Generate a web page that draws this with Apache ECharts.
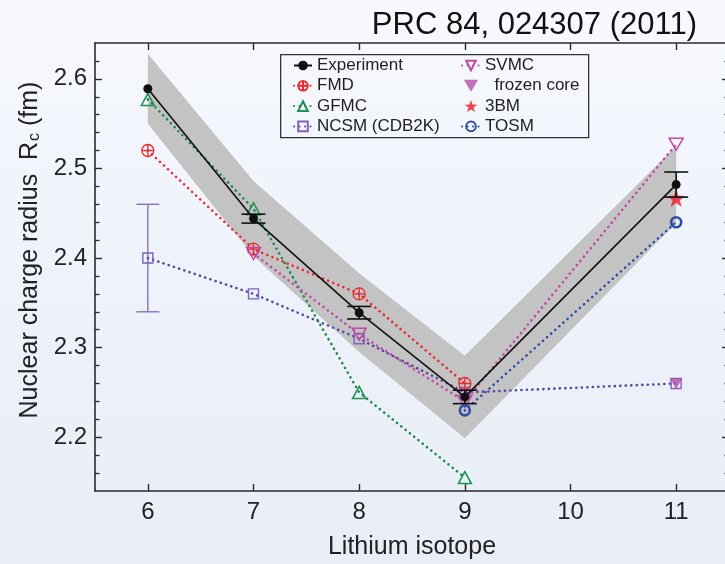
<!DOCTYPE html>
<html>
<head>
<meta charset="utf-8">
<script src="https://cdn.jsdelivr.net/npm/echarts@6/dist/echarts.min.js"></script>
<style>
html,body{margin:0;padding:0;}
body{background:linear-gradient(180deg,#f7f9fd 0%,#eef2fa 50%,#e8edf7 100%);}
#chart{width:725px;height:564px;}
</style>
</head>
<body>
<div id="chart"></div>
<script>
// ---------- data ----------
const isotopes      = [6, 7, 8, 9, 11];
const expValues     = [2.589, 2.444, 2.339, 2.245, 2.482];
const expBandErr    = [0.039, 0.042, 0.044, 0.046, 0.043];
const expStatErr    = [0.0, 0.005, 0.007, 0.0075, 0.014];

const fmdX          = [6, 7, 8, 9];
const fmdValues     = [2.52, 2.41, 2.36, 2.26];

const gfmcX         = [6, 7, 8, 9];
const gfmcValues    = [2.577, 2.455, 2.25, 2.155];

const ncsmX         = [6, 7, 8, 9, 11];
const ncsmValues    = [2.40, 2.36, 2.31, 2.25, 2.26];
const ncsmErrX      = [6];
const ncsmErr       = [0.06];

const svmcX         = [7, 8, 9, 11];
const svmcValues    = [2.405, 2.315, 2.24, 2.527];

const frozenX       = [11];
const frozenValues  = [2.26];

const bm3X          = [11];
const bm3Values     = [2.467];

const tosmX         = [9, 11];
const tosmValues    = [2.23, 2.44];

const xTicks        = [6, 7, 8, 9, 10, 11];
const yTicks        = [2.2, 2.3, 2.4, 2.5, 2.6];
const yMinorTicks   = [2.16, 2.18, 2.22, 2.24, 2.26, 2.28, 2.32, 2.34, 2.36, 2.38,
                       2.42, 2.44, 2.46, 2.48, 2.52, 2.54, 2.56, 2.58, 2.62];

const titleText = 'PRC 84, 024307 (2011)';
const xName = 'Lithium isotope';

// ---------- helpers ----------
const pairs = (xs, ys) => xs.map((x, i) => [x, ys[i]]);
const FONT = "'Liberation Sans', Arial, Helvetica, sans-serif";
const AX = '#2b2b2b';
const STAR = 'path://M0,-10L2.35,-3.24L9.51,-3.09L3.8,1.24L5.88,8.09L0,4L-5.88,8.09L-3.8,1.24L-9.51,-3.09L-2.35,-3.24Z';
const CROSSCIRCLE = 'path://M0,-10A10,10 0 1 1 0,10A10,10 0 1 1 0,-10ZM-10,0L10,0M0,-10L0,10';
const DOWNTRI = 'path://M-10,-8.5L10,-8.5L0,8.5Z';
const dotted = (c) => ({color: c, width: 2.6, type: [0.1, 5.4], cap: 'round'});

function errorBarRenderer(color, lw, half) {
  return function (params, api) {
    const x = api.value(0), lo = api.value(1), hi = api.value(2);
    if (hi - lo <= 0) return null;
    const a = api.coord([x, hi]), b = api.coord([x, lo]);
    const st = {stroke: color, lineWidth: lw, fill: null};
    return {type: 'group', children: [
      {type: 'line', shape: {x1: a[0], y1: a[1], x2: b[0], y2: b[1]}, style: st},
      {type: 'line', shape: {x1: a[0] - half, y1: a[1], x2: a[0] + half, y2: a[1]}, style: st},
      {type: 'line', shape: {x1: b[0] - half, y1: b[1], x2: b[0] + half, y2: b[1]}, style: st}
    ]};
  };
}

function bandRenderer(params, api) {
  if (params.dataIndex !== 0) return null;
  const up = isotopes.map((x, i) => api.coord([x, expValues[i] + expBandErr[i]]));
  const lo = isotopes.map((x, i) => api.coord([x, expValues[i] - expBandErr[i]])).reverse();
  return {type: 'polygon', shape: {points: up.concat(lo)}, style: {fill: '#c3c3c3'}};
}

const gridRect = {left: 95, top: 43, width: 634, height: 448};

const chart = echarts.init(document.getElementById('chart'), null, {renderer: 'canvas'});
chart.setOption({
  animation: false,
  backgroundColor: 'transparent',
  textStyle: {fontFamily: FONT},
  title: {
    text: titleText, right: 23, top: 5,
    textStyle: {fontFamily: FONT, fontSize: 31, fontWeight: 'normal', color: '#111'}
  },
  grid: [
    Object.assign({outerBoundsMode: 'none'}, gridRect),
    Object.assign({outerBoundsMode: 'none'}, gridRect)
  ],
  xAxis: [
    {
      gridIndex: 0, type: 'value', min: 5.5, max: 11.5, position: 'bottom',
      axisLine: {show: true, onZero: false, lineStyle: {color: AX, width: 1.6}},
      axisTick: {show: true, inside: true, length: 7, customValues: xTicks, lineStyle: {color: AX, width: 1.4}},
      axisLabel: {customValues: xTicks, fontSize: 24, color: '#222', margin: 9, fontFamily: FONT},
      splitLine: {show: false},
      name: xName, nameLocation: 'middle', nameGap: 44,
      nameTextStyle: {fontSize: 25, color: '#222', fontFamily: FONT}
    },
    {
      gridIndex: 0, type: 'value', min: 5.5, max: 11.5, position: 'top',
      axisLine: {show: true, onZero: false, lineStyle: {color: AX, width: 1.6}},
      axisTick: {show: true, inside: true, length: 7, customValues: xTicks, lineStyle: {color: AX, width: 1.4}},
      axisLabel: {show: false},
      splitLine: {show: false}
    },
    {
      gridIndex: 1, type: 'value', min: 5.5, max: 11.5, show: false
    }
  ],
  yAxis: [
    {
      gridIndex: 0, type: 'value', min: 2.14, max: 2.64, position: 'left',
      axisLine: {show: true, onZero: false, lineStyle: {color: AX, width: 1.6}},
      axisTick: {show: true, inside: true, length: 7, customValues: yTicks, lineStyle: {color: AX, width: 1.4}},
      axisLabel: {customValues: yTicks, fontSize: 24, color: '#222', margin: 8, fontFamily: FONT,
                  formatter: v => v.toFixed(1)},
      splitLine: {show: false},
      name: 'Nuclear charge radius  R{sub|c} (fm)', nameLocation: 'middle', nameGap: 52,
      nameTextStyle: {
        fontSize: 25, color: '#222', fontFamily: FONT, padding: [0, 0, 0, 34],
        rich: {sub: {fontSize: 16, color: '#222', fontFamily: FONT, padding: [10, 0, 0, 1]}}
      }
    },
    {
      gridIndex: 0, type: 'value', min: 2.14, max: 2.64, position: 'right',
      axisLine: {show: true, onZero: false, lineStyle: {color: AX, width: 1.6}},
      axisTick: {show: true, inside: true, length: 7, customValues: yTicks, lineStyle: {color: AX, width: 1.4}},
      axisLabel: {show: false},
      splitLine: {show: false}
    },
    {
      gridIndex: 1, type: 'value', min: 2.14, max: 2.64, position: 'left',
      axisLine: {show: false},
      axisTick: {show: true, inside: true, length: 4.5, customValues: yMinorTicks, lineStyle: {color: AX, width: 1.3}},
      axisLabel: {show: false},
      splitLine: {show: false}
    },
    {
      gridIndex: 1, type: 'value', min: 2.14, max: 2.64, position: 'right',
      axisLine: {show: false},
      axisTick: {show: true, inside: true, length: 4.5, customValues: yMinorTicks, lineStyle: {color: AX, width: 1.3}},
      axisLabel: {show: false},
      splitLine: {show: false}
    }
  ],
  legend: [
    {
      left: 293, top: 57, orient: 'vertical', padding: 0, itemGap: 3.3,
      itemWidth: 18, itemHeight: 12, selectedMode: false,
      textStyle: {fontSize: 17, color: '#222', fontFamily: FONT, lineHeight: 17},
      data: ['Experiment', 'FMD', 'GFMC', 'NCSM (CDB2K)']
    },
    {
      left: 461, top: 57, orient: 'vertical', padding: 0, itemGap: 3.3,
      itemWidth: 18, itemHeight: 12, selectedMode: false,
      textStyle: {fontSize: 17, color: '#222', fontFamily: FONT, lineHeight: 17},
      formatter: n => (n === 'frozen core' ? '  ' + n : n),
      data: ['SVMC', 'frozen core', '3BM', 'TOSM']
    }
  ],
  graphic: [{
    type: 'rect', left: 280, top: 54, z: 100,
    shape: {width: 308, height: 83},
    style: {fill: 'transparent', stroke: '#333', lineWidth: 1.3}
  }],
  series: [
    {
      name: 'band', type: 'custom', xAxisIndex: 0, yAxisIndex: 0, z: 1, silent: true,
      renderItem: bandRenderer,
      data: isotopes.map((x, i) => [x, expValues[i] - expBandErr[i], expValues[i] + expBandErr[i]])
    },
    {
      name: 'NCSM err', type: 'custom', xAxisIndex: 0, yAxisIndex: 0, z: 3, silent: true,
      renderItem: errorBarRenderer('#8a70c4', 1.4, 11.5),
      data: ncsmErrX.map((x, i) => [x, ncsmValues[ncsmX.indexOf(x)] - ncsmErr[i], ncsmValues[ncsmX.indexOf(x)] + ncsmErr[i]])
    },
    {
      name: 'NCSM (CDB2K)', type: 'line', z: 4, data: pairs(ncsmX, ncsmValues),
      symbol: 'rect', symbolSize: 10,
      itemStyle: {color: 'transparent', borderColor: '#7e62bb', borderWidth: 1.4},
      lineStyle: dotted('#5e43a2')
    },
    {
      name: 'GFMC', type: 'line', z: 5, data: pairs(gfmcX, gfmcValues),
      symbol: 'triangle', symbolSize: [13, 12],
      itemStyle: {color: 'transparent', borderColor: '#1a9150', borderWidth: 1.5},
      lineStyle: dotted('#1a8a48')
    },
    {
      name: 'FMD', type: 'line', z: 5, data: pairs(fmdX, fmdValues),
      symbol: CROSSCIRCLE, symbolSize: 12,
      itemStyle: {color: 'transparent', borderColor: '#ea2a2f', borderWidth: 1.3},
      lineStyle: dotted('#ea2a2f')
    },
    {
      name: 'SVMC', type: 'line', z: 5, data: pairs(svmcX, svmcValues),
      symbol: DOWNTRI, symbolSize: [14, 12],
      itemStyle: {color: 'transparent', borderColor: '#c04aa6', borderWidth: 1.5},
      lineStyle: dotted('#bf4aa6')
    },
    {
      name: 'TOSM', type: 'line', z: 5, data: pairs(tosmX, tosmValues),
      symbol: 'circle', symbolSize: 10,
      itemStyle: {color: 'transparent', borderColor: '#2f4fa6', borderWidth: 2.6},
      lineStyle: dotted('#2f4fa6')
    },
    {
      name: 'frozen core', type: 'scatter', z: 6, data: pairs(frozenX, frozenValues),
      symbol: DOWNTRI, symbolSize: [13, 11],
      itemStyle: {color: '#b24fa6'}
    },
    {
      name: '3BM', type: 'scatter', z: 7, data: pairs(bm3X, bm3Values),
      symbol: STAR, symbolSize: 18,
      itemStyle: {color: '#ee1c25'}
    },
    {
      name: 'Exp err', type: 'custom', xAxisIndex: 0, yAxisIndex: 0, z: 8, silent: true,
      renderItem: errorBarRenderer('#111', 1.6, 12),
      data: isotopes.map((x, i) => [x, expValues[i] - expStatErr[i], expValues[i] + expStatErr[i]])
    },
    {
      name: 'Experiment', type: 'line', z: 9, data: pairs(isotopes, expValues),
      symbol: 'circle', symbolSize: 9,
      itemStyle: {color: '#111'},
      lineStyle: {color: '#111', width: 1.6}
    }
  ]
});
</script>
</body>
</html>
